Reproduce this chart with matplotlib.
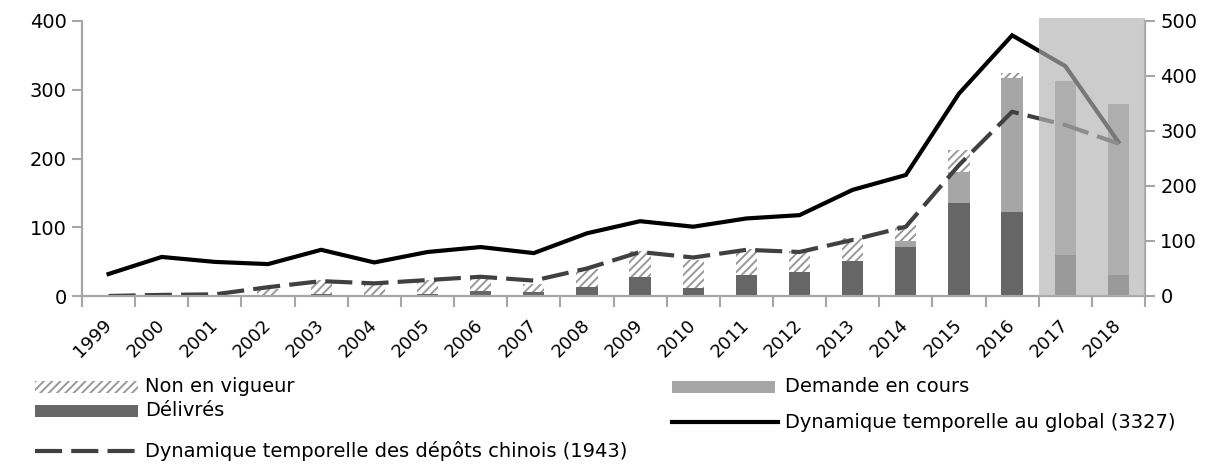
import numpy as np
import matplotlib
matplotlib.use("Agg")
from matplotlib import pyplot as plt
from matplotlib.patches import Rectangle
from matplotlib.lines import Line2D

plt.rcParams['font.family'] = ['DejaVu Sans']
plt.rcParams['hatch.linewidth'] = 1.4

# données
years = [str(y) for y in range(1999, 2019)]
delivres = [0, 0, 0, 2, 3, 2, 3, 8, 6, 13, 28, 11, 30, 35, 51, 72, 135, 122, 59, 31]
demande = [0, 0, 0, 0, 0, 0, 0, 0, 0, 0, 0, 0, 0, 0, 0, 8, 45, 195, 254, 248]
non_vigueur = [0, 0, 0, 8, 20, 18, 20, 19, 11, 27, 38, 41, 38, 30, 33, 24, 32, 8, 0, 0]
global_dyn = [40, 71, 62, 58, 84, 61, 80, 89, 78, 114, 136, 126, 141, 147, 193, 220, 368, 474, 418, 280]
chinois_dyn = [0, 2, 3, 16, 27, 23, 29, 35, 28, 50, 80, 70, 84, 80, 102, 126, 238, 335, 311, 277]

W, H = 1210, 467
fig = plt.figure(figsize=(W / 100, H / 100), dpi=100)
ax = fig.add_axes([82 / W, 1 - 296 / H, (1145 - 82) / W, (296 - 21) / H])
ax2 = ax.twinx()

x = np.arange(len(years))
d = np.array(delivres)
dm = np.array(demande)
nv = np.array(non_vigueur)
bw = 0.4
hatch_col = '#999999'
ax.bar(x, d, bw, color='#666666', linewidth=0)
ax.bar(x, dm, bw, bottom=d, color='#a6a6a6', linewidth=0)
ax.bar(x, nv, bw, bottom=d + dm, color='white', edgecolor=hatch_col,
       hatch='////', linewidth=0)

ax2.plot(x, global_dyn, color='black', lw=3, solid_joinstyle='miter')
ax2.plot(x, chinois_dyn, color='#404040', lw=3, dashes=(6.5, 2.2))

# zone grisée 2017-2018
ax2.axvspan(17.5, 19.5, ymin=0, ymax=1.01, color='#b3b3b3', alpha=0.67,
            lw=0, zorder=10, clip_on=False)

ax.set_xlim(-0.5, 19.5)
ax.set_ylim(0, 400)
ax2.set_ylim(0, 500)
ax.set_yticks(range(0, 401, 100))
ax2.set_yticks(range(0, 501, 100))

for a in (ax, ax2):
    a.spines['top'].set_visible(False)
    for s in ('left', 'right', 'bottom'):
        a.spines[s].set_color('#a6a6a6')
        a.spines[s].set_linewidth(1.5)
    a.tick_params(axis='y', length=7, width=1.5, color='#a6a6a6',
                  labelsize=14, pad=4)

ax.set_xticks(x)
ax.set_xticklabels(years, rotation=45, ha='right', va='center',
                   rotation_mode='anchor', fontsize=13)
ax.set_xticks(np.arange(-0.5, 20, 1), minor=True)
ax.tick_params(axis='x', which='major', length=0, pad=19)
ax.tick_params(axis='x', which='minor', length=8, width=1.5, color='#a6a6a6')

# légende manuelle
lg = fig.add_axes([0, 0, 1, 1])
lg.set_xlim(0, W)
lg.set_ylim(H, 0)
lg.axis('off')
fs = 14


def box(x0, yc, **kw):
    lg.add_patch(Rectangle((x0, yc - 6), 103, 12, **kw))


box(35, 387, facecolor='white', edgecolor=hatch_col, hatch='////', lw=0)
lg.text(145, 387, 'Non en vigueur', va='center', fontsize=fs)
box(35, 411, facecolor='#666666', lw=0)
lg.text(145, 411, 'Délivrés', va='center', fontsize=fs)
lg.add_line(Line2D([35, 138], [451, 451], color='#404040', lw=3, dashes=(6.5, 2.2)))
lg.text(145, 451, 'Dynamique temporelle des dépôts chinois (1943)', va='center', fontsize=fs)
box(672, 387, facecolor='#a6a6a6', lw=0)
lg.text(785, 387, 'Demande en cours', va='center', fontsize=fs)
lg.add_line(Line2D([672, 778], [422, 422], color='black', lw=3))
lg.text(785, 422, 'Dynamique temporelle au global (3327)', va='center', fontsize=fs)

fig.savefig('out.png', dpi=100)
